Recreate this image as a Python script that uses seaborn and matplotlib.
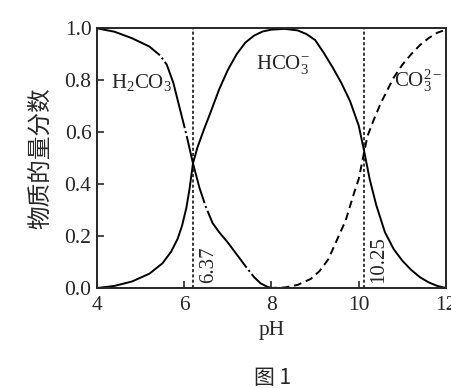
import numpy as np
import pandas as pd
import seaborn as sns
import matplotlib
matplotlib.use("Agg")
import matplotlib.pyplot as plt

# values
h2co3_ph = [4.0, 4.4, 4.8, 5.2, 5.45, 5.6, 5.75, 5.9, 6.05, 6.2, 6.35, 6.5, 6.65,
            6.8, 7.0, 7.2, 7.4, 7.6, 7.75, 7.9, 8.0]
h2co3_frac = [1.0, 0.987, 0.962, 0.93, 0.895, 0.86, 0.79, 0.69, 0.59, 0.48, 0.385,
              0.31, 0.25, 0.215, 0.175, 0.13, 0.085, 0.042, 0.018, 0.005, 0.0]

hco3_ph = [4.0, 4.4, 4.8, 5.2, 5.5, 5.7, 5.85, 5.95, 6.05, 6.12, 6.2, 6.3, 6.45,
           6.6, 6.8, 7.0, 7.2, 7.4, 7.6, 7.8, 8.0, 8.3, 8.6, 8.8, 9.0, 9.2, 9.4,
           9.6, 9.8, 10.0, 10.12, 10.25, 10.4, 10.6, 10.8, 11.0, 11.2, 11.4, 11.6,
           11.8, 12.0]
hco3_frac = [0.0, 0.008, 0.025, 0.055, 0.095, 0.14, 0.19, 0.24, 0.31, 0.38, 0.48,
             0.54, 0.61, 0.675, 0.765, 0.84, 0.9, 0.945, 0.972, 0.988, 0.995, 0.998,
             0.992, 0.978, 0.955, 0.905, 0.85, 0.79, 0.72, 0.625, 0.53, 0.42, 0.32,
             0.215, 0.15, 0.105, 0.07, 0.042, 0.022, 0.008, 0.0]

co3_ph = [7.95, 8.3, 8.6, 8.9, 9.1, 9.3, 9.5, 9.7, 9.9, 10.0, 10.12, 10.2, 10.35,
          10.5, 10.8, 11.0, 11.2, 11.4, 11.6, 11.8, 12.0]
co3_frac = [0.0, 0.002, 0.012, 0.035, 0.065, 0.11, 0.185, 0.26, 0.37, 0.42, 0.52,
            0.585, 0.65, 0.71, 0.81, 0.86, 0.9, 0.935, 0.962, 0.983, 0.995]

pka_lines = [6.21, 10.12]
pka_labels = ["6.37", "10.25"]

sns.set_style("ticks")
plt.rcParams["font.family"] = ["Liberation Serif", "Noto Sans CJK SC"]
plt.rcParams["mathtext.fontset"] = "custom"
plt.rcParams["mathtext.rm"] = "Liberation Serif"
plt.rcParams["mathtext.it"] = "Liberation Serif:italic"
plt.rcParams["lines.scale_dashes"] = False

fig = plt.figure(figsize=(4.52, 3.88), dpi=100)
ax = fig.add_axes([0.2146, 0.2577, 0.7721, 0.6693])

df1 = pd.DataFrame({"pH": h2co3_ph, "frac": h2co3_frac})
df2 = pd.DataFrame({"pH": hco3_ph, "frac": hco3_frac})
df3 = pd.DataFrame({"pH": co3_ph, "frac": co3_frac})

sns.lineplot(data=df1, x="pH", y="frac", ax=ax, color="black", lw=1.4, sort=False)
ax.lines[-1].set_dashes((50, 2.2, 1.5, 2.2))
sns.lineplot(data=df2, x="pH", y="frac", ax=ax, color="black", lw=1.4, sort=False)
sns.lineplot(data=df3, x="pH", y="frac", ax=ax, color="black", lw=1.4, sort=False)
ax.lines[-1].set_dashes((5.5, 3.5))

for xv, lab in zip(pka_lines, pka_labels):
    ax.axvline(xv, color="black", lw=1.1, dashes=(2.2, 1.6))
    ax.text(xv + 0.12, 0.02, lab, rotation=90, ha="left", va="bottom",
            fontsize=15)

ax.text(5.03, 0.79, r"H$_2$CO$_3$", ha="center", va="center", fontsize=15)
ax.text(8.27, 0.86, r"HCO$_3^{-}$", ha="center", va="center", fontsize=15)
ax.text(11.37, 0.80, r"CO$_3^{2-}$", ha="center", va="center", fontsize=15)

ax.set_xlim(4, 12)
ax.set_ylim(0, 1.0)
ax.set_xticks([4, 6, 8, 10, 12])
ax.set_yticks([0.0, 0.2, 0.4, 0.6, 0.8, 1.0])
ax.set_yticklabels(["0.0", "0.2", "0.4", "0.6", "0.8", "1.0"])
ax.tick_params(direction="in", length=5, width=1.2, labelsize=15.5, pad=4)
ax.tick_params(axis="x", pad=6)
for s in ax.spines.values():
    s.set_linewidth(1.4)
    s.set_visible(True)

ax.set_xlabel("pH", fontsize=15.5, labelpad=4)
ax.set_ylabel("物质的量分数", fontsize=17, labelpad=9,
              family=["Noto Sans CJK SC", "DejaVu Sans"])
fig.text(0.604, 0.025, "图 1", ha="center", va="center", fontsize=15,
         family=["Noto Sans CJK SC", "DejaVu Sans"])

fig.savefig("out.png", dpi=100)
